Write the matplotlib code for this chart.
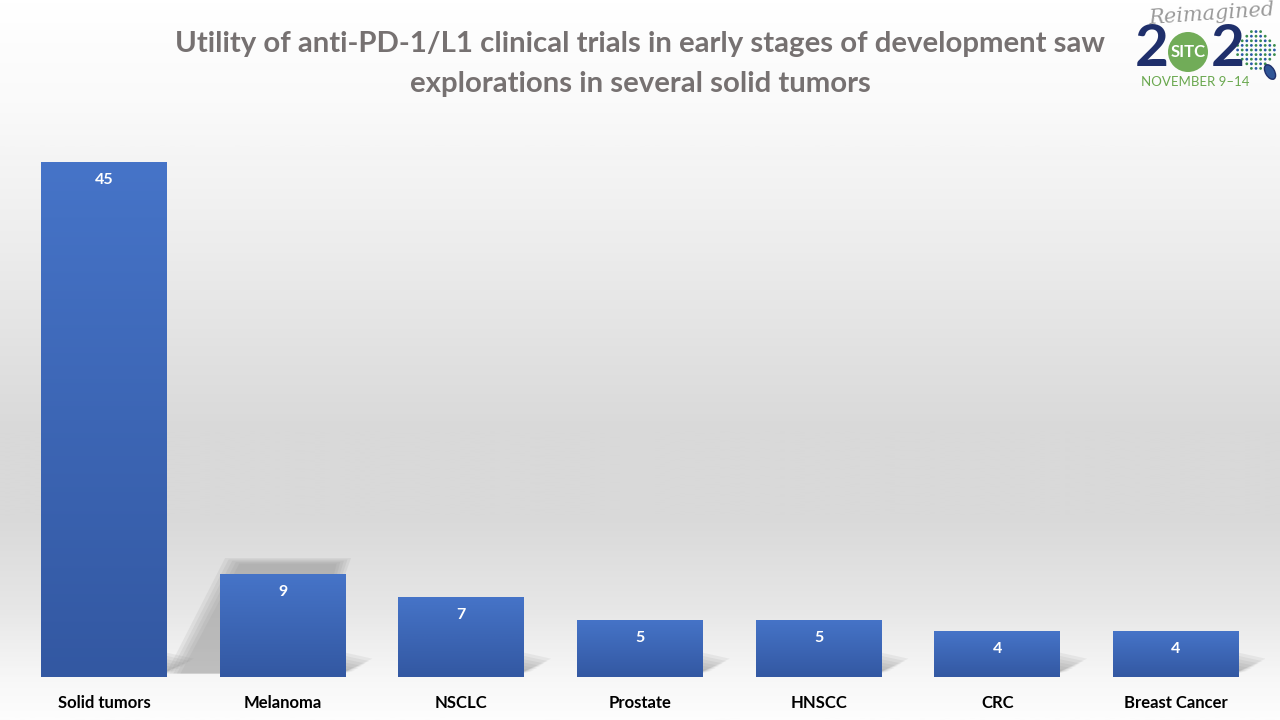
import matplotlib
matplotlib.use('Agg')
import matplotlib.pyplot as plt
import numpy as np
from matplotlib.colors import LinearSegmentedColormap
from matplotlib.patches import Polygon, Circle, Ellipse

categories = ['Solid tumors', 'Melanoma', 'NSCLC', 'Prostate', 'HNSCC', 'CRC', 'Breast Cancer']
trials = [45, 9, 7, 5, 5, 4, 4]
title = ("Utility of anti-PD-1/L1 clinical trials in early stages of development saw\n"
         "explorations in several solid tumors")

plt.rcParams['font.family'] = ['Lato', 'DejaVu Sans']

fig = plt.figure(figsize=(12.8, 7.2), dpi=100)

# slide background: white -> grey -> white
bg = fig.add_axes([0, 0, 1, 1], zorder=-5)
bg_cmap = LinearSegmentedColormap.from_list('bg', [
    (0.0, '#ffffff'), (0.14, '#fafafa'), (0.35, '#ececec'), (0.6, '#d9d9d9'),
    (0.72, '#d9d9d9'), (0.85, '#e7e7e7'), (0.95, '#f8f8f8'), (1.0, '#fdfdfd')])
bg.imshow(np.linspace(0, 1, 400).reshape(-1, 1), cmap=bg_cmap, aspect='auto',
          extent=(0, 1, 0, 1), origin='upper')
bg.set_xlim(0, 1); bg.set_ylim(0, 1); bg.axis('off')

ax = fig.add_axes([14.7 / 1280, 43 / 720, 1250.6 / 1280, 572 / 720])
ax.patch.set_alpha(0)
x = np.arange(len(categories))
width = 0.705
bars = ax.bar(x, trials, width=width, color='#4472c4', zorder=3)

bar_cmap = LinearSegmentedColormap.from_list('bar', ['#3358a2', '#4674c8'])
grad = np.linspace(0, 1, 200).reshape(-1, 1)

for rect, v in zip(bars, trials):
    x0 = rect.get_x(); x1 = x0 + rect.get_width()
    im = ax.imshow(grad, cmap=bar_cmap, aspect='auto', origin='lower',
                   extent=(x0, x1, 0, v), zorder=4)
    im.set_clip_path(rect)
    # soft shadow at lower right corner
    for k in range(6):
        s = 1 - k * 0.13
        ax.add_patch(Polygon([(x1 - 0.05, 0.15), (x1 + 0.15 * s, 1.6 * s),
                              (x1 - 0.05, 2.3 * s)],
                             closed=True, facecolor='#7a7a7a', edgecolor='none',
                             alpha=0.10, zorder=2))
    ax.text(rect.get_x() + rect.get_width() / 2, v - 1.57, str(v), ha='center',
            va='center', color='white', fontsize=11.5, fontweight='bold', zorder=5)

# perspective shadow behind the Melanoma bar
m = bars[1]
mx0 = m.get_x(); mx1 = mx0 + m.get_width()
for k in range(5):
    d = k * 0.02
    ax.add_patch(Polygon([(mx0 - 0.3 + d, 0.3), (mx0 + 0.03 + d, 10.4 - k * 0.12),
                          (mx1 + 0.03 - d, 10.4 - k * 0.12), (mx1 - 0.2, 0.3)],
                         closed=True, facecolor='#8a8a8a', edgecolor='none',
                         alpha=0.13, zorder=2))

ax.set_xlim(-0.5, len(categories) - 0.5)
ax.set_ylim(0, 50)
ax.set_xticks(x)
ax.set_xticklabels(categories, fontsize=12, fontweight='bold', color='black')
ax.tick_params(axis='x', length=0, pad=13)
ax.set_yticks([])
for sp in ax.spines.values():
    sp.set_visible(False)

fig.text(0.5, 1 - 64 / 720, title, ha='center', va='center', fontsize=21.2,
         fontweight='bold', color='#767171', linespacing=1.62)

# conference logo (simplified)
lg = fig.add_axes([1130 / 1280, 1 - 92 / 720, 150 / 1280, 92 / 720], zorder=6)
lg.set_xlim(0, 150); lg.set_ylim(92, 0); lg.axis('off')
lg.text(82, 14, 'Reimagined', ha='center', va='center', fontsize=15,
        style='italic', color='#9a9a9a', family='DejaVu Serif', rotation=4)
lg.text(22, 50, '2', ha='center', va='center', fontsize=42, fontweight='bold',
        color='#1f2f6b')
lg.text(98, 50, '2', ha='center', va='center', fontsize=42, fontweight='bold',
        color='#1f2f6b')
lg.add_patch(Circle((58, 52), 20, facecolor='#6aa84f', edgecolor='none', alpha=0.95))
lg.text(58, 52, 'SITC', ha='center', va='center', fontsize=12, fontweight='bold',
        color='white')
yy, xx = np.mgrid[-4:5, -4:5]
for i, j in zip(xx.ravel(), yy.ravel()):
    if i * i + j * j <= 17:
        lg.add_patch(Circle((126 + i * 4.6, 50 + j * 4.6), 1.4,
                            facecolor='#3a8d4c' if (i + j) % 2 else '#2b5aa8',
                            edgecolor='none'))
lg.add_patch(Ellipse((140, 72), 9, 16, angle=-30, facecolor='#2f5597',
                     edgecolor='#1f2f6b'))
lg.text(65, 82, 'NOVEMBER 9\u201314', ha='center', va='center', fontsize=9.5,
        color='#6aa84f')

fig.savefig('out.png', dpi=100)
